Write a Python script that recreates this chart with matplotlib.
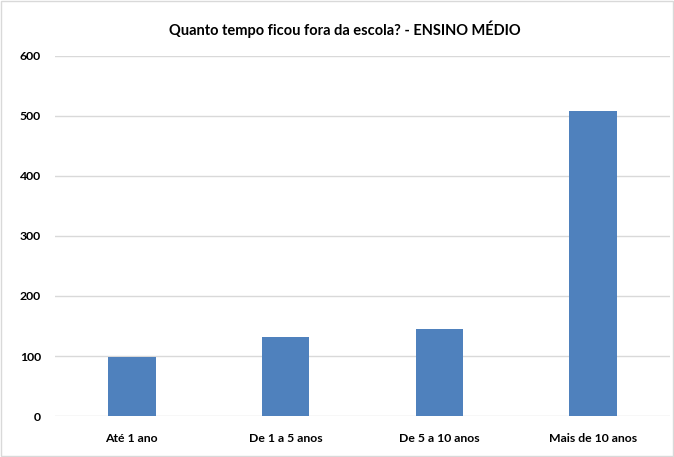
import matplotlib.pyplot as plt
from matplotlib.patches import Rectangle

categorias = ['Até 1 ano', 'De 1 a 5 anos', 'De 5 a 10 anos', 'Mais de 10 anos']
valores = [99, 132, 145, 509]
y_ticks = [0, 100, 200, 300, 400, 500, 600]

plt.rcParams['font.family'] = ['Lato', 'DejaVu Sans']

fig = plt.figure(figsize=(6.74, 4.57), dpi=100)
ax = fig.add_axes([0.0816, 0.0897, 0.9124, 0.7878])

x = range(len(categorias))
ax.bar(x, valores, width=0.31, color='#4F81BD', zorder=3)

ax.set_xlim(-0.5, len(categorias) - 0.5)
ax.set_ylim(0, 600)
ax.set_yticks(y_ticks)
ax.set_xticks(list(x))
ax.set_xticklabels(categorias, fontsize=8.8, fontweight='bold')
ax.set_yticklabels([str(v) for v in y_ticks], fontsize=8.8, fontweight='bold')
ax.tick_params(length=0, pad=10)
ax.tick_params(axis='x', pad=12)
ax.grid(axis='y', color='#d9d9d9', linewidth=1, zorder=0)
for s in ax.spines.values():
    s.set_visible(False)

fig.text(0.512, 0.935, 'Quanto tempo ficou fora da escola? - ENSINO MÉDIO',
         ha='center', va='center', fontsize=10.5, fontweight='bold')

fig.patches.append(Rectangle((0.002, 0.002), 0.996, 0.996, transform=fig.transFigure,
                             fill=False, edgecolor='#d9d9d9', linewidth=1))

fig.savefig('out.png', dpi=100)
